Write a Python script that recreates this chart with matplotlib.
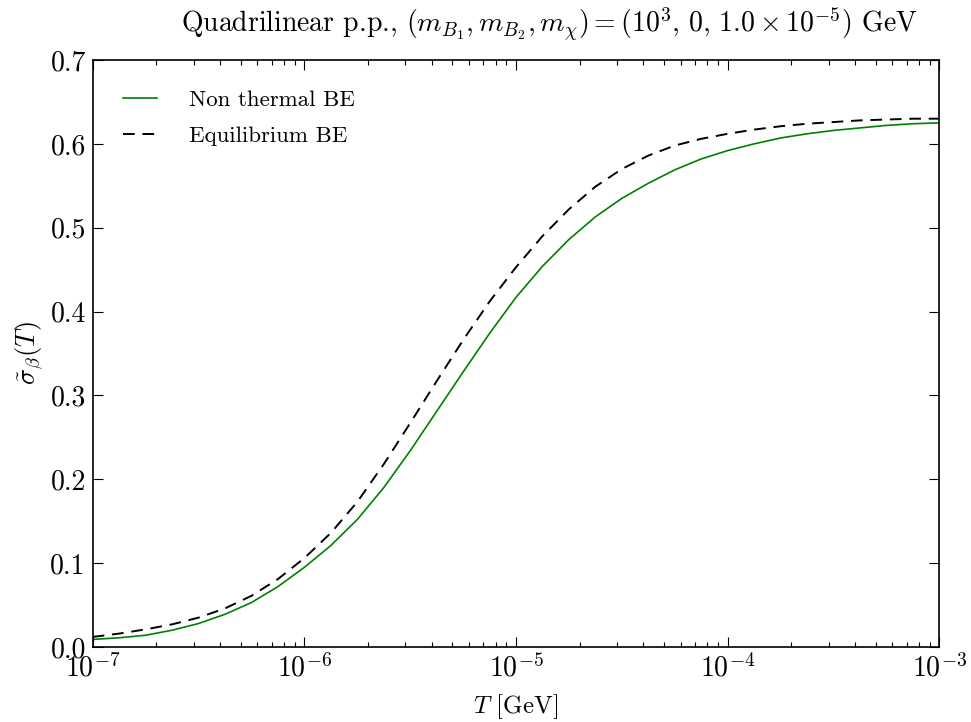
import numpy as np
import matplotlib
matplotlib.use('Agg')
import matplotlib.pyplot as plt

# log10(T/GeV) grid and readings of sigma_beta(T)
log_T = [-7.0, -6.875, -6.75, -6.625, -6.5, -6.375, -6.25, -6.125, -6.0,
         -5.875, -5.75, -5.625, -5.5, -5.375, -5.25, -5.125, -5.0,
         -4.875, -4.75, -4.625, -4.5, -4.375, -4.25, -4.125, -4.0,
         -3.875, -3.75, -3.625, -3.5, -3.375, -3.25, -3.125, -3.0]

non_thermal = [0.009, 0.011, 0.014, 0.020, 0.028, 0.039, 0.053, 0.072, 0.095,
               0.121, 0.152, 0.190, 0.234, 0.281, 0.328, 0.374, 0.417,
               0.454, 0.486, 0.513, 0.535, 0.553, 0.569, 0.582, 0.592,
               0.600, 0.607, 0.612, 0.616, 0.619, 0.622, 0.624, 0.625]

equilibrium = [0.012, 0.016, 0.021, 0.027, 0.035, 0.046, 0.061, 0.081, 0.106,
               0.136, 0.173, 0.218, 0.267, 0.317, 0.366, 0.412, 0.453,
               0.490, 0.522, 0.549, 0.570, 0.586, 0.598, 0.606, 0.612,
               0.617, 0.621, 0.624, 0.626, 0.628, 0.629, 0.630, 0.630]

T = 10.0 ** np.array(log_T)

plt.rcParams['font.family'] = 'serif'
plt.rcParams['font.serif'] = ['cmr10']
plt.rcParams['mathtext.fontset'] = 'cm'
plt.rcParams['axes.formatter.use_mathtext'] = True
plt.rcParams['axes.unicode_minus'] = False

fig = plt.figure(figsize=(9.71, 7.22), dpi=100)
ax = fig.add_axes([0.0955, 0.1039, 0.8719, 0.8130])

ax.plot(T, non_thermal, color='green', lw=1.2, label='Non thermal BE')
ax.plot(T, equilibrium, color='black', lw=1.4, dashes=(6, 4), label='Equilibrium BE')

ax.set_xscale('log')
ax.set_xlim(1e-7, 1e-3)
ax.set_ylim(0, 0.7)
ax.set_yticks(np.arange(0, 0.71, 0.1))
ax.set_yticklabels([f'{v:.1f}' for v in np.arange(0, 0.71, 0.1)])

ax.tick_params(which='both', direction='in', top=True, right=True, labelsize=20)
ax.tick_params(which='major', length=7, width=0.8, pad=5)
ax.tick_params(which='minor', length=3.5, width=0.8)
for s in ax.spines.values():
    s.set_linewidth(1.2)

ax.set_xlabel(r'$T$ [GeV]', fontsize=18, labelpad=7)
ax.set_ylabel(r'$\tilde{\sigma}_\beta(T)$', fontsize=19, labelpad=4)
ax.set_title(r'Quadrilinear p.p., $(m_{B_1}, m_{B_2}, m_\chi) = (10^3,\, 0,\, 1.0 \times 10^{-5})$ GeV',
             fontsize=20, pad=20, x=0.539)

ax.legend(loc='upper left', frameon=False, fontsize=16.5, handlelength=1.5,
          handletextpad=1.4, labelspacing=0.7, borderaxespad=0.9)

fig.savefig('out.png', dpi=100, facecolor='white')
